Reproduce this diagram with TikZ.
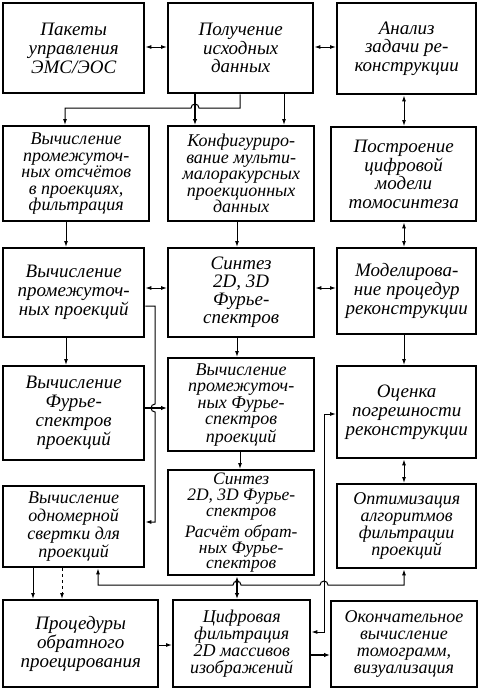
\documentclass[tikz,border=0pt]{standalone}
\usepackage{fontspec}
\setmainfont{Liberation Serif}
\usetikzlibrary{arrows.meta}
\begin{document}
\begin{tikzpicture}[x=1pt,y=-1pt,
  box/.style={draw, line width=2.4pt, anchor=north west, inner sep=0pt, align=center},
  lsp/.style={font=\itshape\fontsize{19}{#1}\selectfont},
  lsq/.style={font=\itshape\fontsize{18}{#1}\selectfont},
  lss/.style={font=\itshape\fontsize{17.5}{#1}\selectfont},
  conn/.style={line width=1pt, >={Latex[length=6pt,width=4pt]}},
  connb/.style={line width=1.8pt, >={Latex[length=6pt,width=4.5pt]}}]
\useasboundingbox (0,0) rectangle (477,688);
% boxes
\node[box,lsp=19,minimum width=141pt,minimum height=90pt] (a1) at (2,2) {Пакеты\\управления\\ЭМС/ЭОС};
\node[box,lsp=18.5,minimum width=145pt,minimum height=90pt] (a2) at (167,2) {Получение\\исходных\\данных};
\node[box,lsp=18.5,minimum width=139pt,minimum height=91pt] (a3) at (336,2) {Анализ\\задачи ре-\\конструкции};
\node[box,lsq=16.5,minimum width=146pt,minimum height=95pt] (b1) at (2,125) {Вычисление\\промежуточ-\\ных отсчётов\\в проекциях,\\фильтрация};
\node[box,lsq=16.5,minimum width=146pt,minimum height=95pt] (b2) at (167,125) {Конфигуриро-\\вание мульти-\\малоракурсных\\проекционных\\данных};
\node[box,lsp=18.5,minimum width=145pt,minimum height=94pt] (b3) at (330,126) {Построение\\цифровой\\модели\\томосинтеза};
\node[box,lsp=19,minimum width=141pt,minimum height=89pt] (c1) at (2,247) {Вычисление\\промежуточ-\\ных проекций};
\node[box,lsp=18,minimum width=146pt,minimum height=89pt] (c2) at (167,247) {Синтез\\2D, 3D\\Фурье-\\спектров};
\node[box,lsp=19,minimum width=139pt,minimum height=86pt] (c3) at (336,247) {Моделирова-\\ние процедур\\реконструкции};
\node[box,lsp=19,minimum width=141pt,minimum height=94pt] (d1) at (2,365) {Вычисление\\Фурье-\\спектров\\проекций};
\node[box,lsq=16.5,minimum width=146pt,minimum height=93pt] (d2) at (167,357) {Вычисление\\промежуточ-\\ных Фурье-\\спектров\\проекций};
\node[box,lsp=19,minimum width=139pt,minimum height=92pt] (d3) at (336,365) {Оценка\\погрешности\\реконструкции};
\node[box,lsq=18,minimum width=141pt,minimum height=81pt] (e1) at (2,485) {Вычисление\\одномерной\\свертки для\\проекций};
\node[box,lss=15.8,minimum width=146pt,minimum height=105pt] (e2) at (167,469) {Синтез\\2D, 3D Фурье-\\спектров\\[4pt]Расчёт обрат-\\ных Фурье-\\спектров};
\node[box,lsq=17,minimum width=139pt,minimum height=84pt] (e3) at (336,483) {Оптимизация\\алгоритмов\\фильтрации\\проекций};
\node[box,lsp=19,minimum width=155pt,minimum height=86.5pt] (f1) at (2,599) {Процедуры\\обратного\\проецирования};
\node[box,lsq=17,minimum width=137pt,minimum height=86.5pt] (f2) at (172,599) {Цифровая\\фильтрация\\2D массивов\\изображений};
\node[box,lsq=17,minimum width=145.5pt,minimum height=86pt] (f3) at (330,600) {Окончательное\\вычисление\\томограмм,\\визуализация};
% reference coordinates
\coordinate (X33) at (33,0);
\coordinate (X62) at (62,0);
\coordinate (X65) at (65,0);
\coordinate (X66) at (66,0);
\coordinate (X98) at (98,0);
\coordinate (X195) at (195,0);
\coordinate (X237) at (237,0);
\coordinate (X240) at (240,0);
\coordinate (X284) at (284,0);
\coordinate (X404) at (404,0);
\coordinate (Y47) at (0,47);
\coordinate (Y288) at (0,288);
\coordinate (Y306) at (0,306);
\coordinate (Y408) at (0,408);
\coordinate (Y414) at (0,414);
\coordinate (Y522) at (0,522);
\coordinate (Y632) at (0,632);
\coordinate (Y645) at (0,645);
\coordinate (Y655) at (0,655);
% connectors
\draw[conn,<->] (a1.east |- Y47) -- (a2.west |- Y47);
\draw[conn,<->] (a2.east |- Y47) -- (a3.west |- Y47);
\draw[connb,->] (a2.south -| X195) -- (b2.north -| X195);
\draw[conn,->] (a2.south -| X284) -- (b2.north -| X284);
\draw[conn,->] (a2.south -| X240) -- (240,108) -- (199,108) arc[start angle=0,end angle=180,radius=4pt] -- (65,108) -- (b1.north -| X65);
\draw[conn,<->] (a3.south -| X404) -- (b3.north -| X404);
\draw[conn,->] (b1.south -| X66) -- (c1.north -| X66);
\draw[conn,->] (b2.south -| X237) -- (c2.north -| X237);
\draw[conn,<->] (b3.south -| X404) -- (c3.north -| X404);
\draw[conn,<->] (c1.east |- Y288) -- (c2.west |- Y288);
\draw[conn,<->] (c2.east |- Y288) -- (c3.west |- Y288);
\draw[conn,->] (c1.south -| X66) -- (d1.north -| X66);
\draw[conn,->] (c2.south -| X237) -- (d2.north -| X237);
\draw[conn,->] (c3.south -| X404) -- (d3.north -| X404);
\draw[conn,->] (c1.east |- Y306) -- (155,306) -- (155,404) arc[start angle=90,end angle=270,radius=4pt] -- (155,522) -- (e1.east |- Y522);
\draw[connb,->] (d1.east |- Y408) -- (d2.west |- Y408);
\draw[conn,->] (d2.south -| X240) -- (e2.north -| X240);
\draw[conn,<->] (d3.south -| X404) -- (e3.north -| X404);
\draw[conn,->] (e1.south -| X33) -- (f1.north -| X33);
\draw[conn,dashed,->] (e1.south -| X62) -- (f1.north -| X62);
\draw[connb,<->] (e2.south -| X237) -- (f2.north -| X237);
\draw[conn,<->] (e1.south -| X98) -- (98,585) -- (233,585) arc[start angle=180,end angle=0,radius=4pt] -- (320,585) arc[start angle=180,end angle=0,radius=4pt] -- (404,585) -- (e3.south -| X404);
\draw[conn,<->] (d3.west |- Y414) -- (324,414) -- (324,632) -- (f2.east |- Y632);
\draw[conn,->] (f1.east |- Y645) -- (f2.west |- Y645);
\draw[connb,->] (f2.east |- Y655) -- (f3.west |- Y655);
\end{tikzpicture}
\end{document}
